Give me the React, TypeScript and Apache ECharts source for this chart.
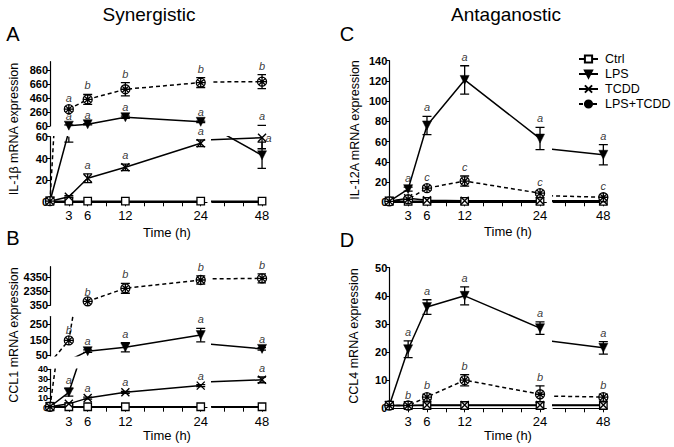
import React, { useEffect, useRef } from 'react';
import * as echarts from 'echarts';

// ---------------- data ----------------
const times = [0, 3, 6, 12, 24, 48];
const seriesNames = ['Ctrl', 'LPS', 'TCDD', 'LPS+TCDD'];

const xTicksSeg1 = [3, 6, 9, 12, 15, 18, 21, 24];
const xLabelsSeg1 = [3, 6, 12, 24];
const xTicksSeg2 = [42, 45, 48];
const xLabelsSeg2 = [48];

// Panel A: IL-1β
const ctrlA = [1, 1, 1, 1, 1, 1];
const lpsA = [1, 65, 85, 185, 120, 43];
const lpsErrA = [0, 10, 10, 15, 10, 12];
const tcddA = [1, 5, 22, 32, 54, 59];
const tcddErrA = [0, 1, 4, 3, 3, 10];
const comboA = [1, 300, 440, 585, 680, 693];
const comboErrA = [0, 30, 70, 95, 70, 100];
const lpsLettersA = ['', 'a', 'a', 'a', 'a', 'a'];
const lpsLetterAtA = [null, null, null, null, null, 59];
const lpsLetterSideA = ['top', 'top', 'top', 'top', 'top', 'right'];
const tcddLettersA = ['', '', 'a', 'a', 'a', 'a'];
const comboLettersA = ['', 'a', 'b', 'b', 'b', 'b'];
const aLowTicks = [0, 20, 40, 60];
const aHighTicks = [60, 260, 460, 660, 860];

// Panel B: CCL1
const ctrlB = [1, 1, 1, 1, 1, 1];
const lpsB = [1, 16, 75, 100, 180, 90];
const lpsErrB = [0, 4, 8, 30, 44, 8];
const tcddB = [1, 4, 10, 16, 23, 29];
const tcddErrB = [0, 1, 1, 1, 1, 3];
const comboB = [1, 145, 880, 2760, 3960, 4200];
const comboErrB = [0, 10, 50, 720, 580, 650];
const lpsLettersB = ['', 'a', 'a', 'a', 'a', 'a'];
const tcddLettersB = ['', '', 'a', 'a', 'a', 'a'];
const comboLettersB = ['', 'b', 'b', 'b', 'b', 'b'];
const bLowTicks = [0, 10, 20, 30, 40];
const bMidTicks = [50, 150, 250];
const bHighTicks = [350, 2350, 4350];

// Panel C: IL-12A
const ctrlC = [1, 1, 1, 1, 1, 1];
const lpsC = [1, 13, 76, 121, 63, 47];
const lpsErrC = [0, 2, 9, 14, 11, 10];
const tcddC = [1, 4, 2, 1.5, 1.5, 1.5];
const comboC = [1, 3, 14, 21, 9, 5];
const comboErrC = [0, 1, 2, 5, 2, 2];
const lpsLettersC = ['', 'a', 'a', 'a', 'a', 'a'];
const comboLettersC = ['', '', 'c', 'c', 'c', 'c'];
const cTicks = [0, 20, 40, 60, 80, 100, 120, 140];

// Panel D: CCL4
const ctrlD = [1, 1, 1, 1, 1, 1];
const lpsD = [1, 21, 36, 40, 28.5, 21.5];
const lpsErrD = [0, 3, 2.6, 3.2, 2.2, 2.2];
const tcddD = [1, 1, 1.2, 1.2, 1.2, 1.2];
const comboD = [1, 1, 4, 10, 5, 4];
const comboErrD = [0, 0.5, 1, 2, 3, 1];
const lpsLettersD = ['', 'a', 'a', 'a', 'a', 'a'];
const comboLettersD = ['', 'b', 'b', 'b', 'b', 'b'];
const dTicks = [0, 10, 20, 30, 40, 50];

const zeros = [0, 0, 0, 0, 0, 0];
const none = ['', '', '', '', '', ''];

// ---------------- styling ----------------
const FONT = "'Liberation Sans', Arial, Helvetica, sans-serif";
const PX = 6.28; // pixels per hour

const seriesStyle: Record<string, any> = {
  Ctrl: {
    symbol: 'rect', symbolSize: 7.5, symbolRotate: 0,
    itemStyle: { color: '#fff', borderColor: '#000', borderWidth: 1.3 },
    lineStyle: { color: '#000', width: 1.6, type: 'solid' },
  },
  LPS: {
    symbol: 'triangle', symbolSize: 9, symbolRotate: 180,
    itemStyle: { color: '#000', borderColor: '#000', borderWidth: 0.5 },
    lineStyle: { color: '#000', width: 1.5, type: 'solid' },
  },
  TCDD: {
    symbol: 'path://M0,0L10,10M10,0L0,10', symbolSize: 8, symbolRotate: 0,
    itemStyle: { color: 'rgba(0,0,0,0)', borderColor: '#000', borderWidth: 1.4 },
    lineStyle: { color: '#000', width: 1.5, type: 'solid' },
  },
  'LPS+TCDD': {
    symbol: 'path://M10,5A5,5,0,1,1,0,5A5,5,0,1,1,10,5ZM0,5L10,5M5,0L5,10M1.6,1.6L8.4,8.4M8.4,1.6L1.6,8.4',
    symbolSize: 9, symbolRotate: 0,
    itemStyle: { color: '#fff', borderColor: '#000', borderWidth: 1.3 },
    lineStyle: { color: '#000', width: 1.5, type: [4, 3] },
  },
};

// ---------------- panels ----------------
const panels = [
  {
    x0: 50, seg2Left: 211.8,
    segs: [
      { min: 0, max: 60, top: 136.7, bottom: 202.3, ticks: aLowTicks, dropBelow: false, fs: 11, split: false },
      { min: 60, max: 978, top: 61.7, bottom: 126, ticks: aHighTicks, dropBelow: true, fs: 11, split: false },
    ],
    series: [
      { name: 'Ctrl', values: ctrlA, errs: zeros, letters: none },
      { name: 'LPS', values: lpsA, errs: lpsErrA, letters: lpsLettersA, letterAt: lpsLetterAtA, letterSide: lpsLetterSideA },
      { name: 'TCDD', values: tcddA, errs: tcddErrA, letters: tcddLettersA },
      { name: 'LPS+TCDD', values: comboA, errs: comboErrA, letters: comboLettersA },
    ],
  },
  {
    x0: 50, seg2Left: 211.8,
    segs: [
      { min: 0, max: 40, top: 369.3, bottom: 407.7, ticks: bLowTicks, dropBelow: false, fs: 9, split: true },
      { min: 45, max: 300, top: 316.6, bottom: 355.8, ticks: bMidTicks, dropBelow: false, fs: 11, split: false },
      { min: 300, max: 5880, top: 266.7, bottom: 305.3, ticks: bHighTicks, dropBelow: true, fs: 11, split: false },
    ],
    series: [
      { name: 'Ctrl', values: ctrlB, errs: zeros, letters: none },
      { name: 'LPS', values: lpsB, errs: lpsErrB, letters: lpsLettersB },
      { name: 'TCDD', values: tcddB, errs: tcddErrB, letters: tcddLettersB },
      { name: 'LPS+TCDD', values: comboB, errs: comboErrB, letters: comboLettersB },
    ],
  },
  {
    x0: 389.3, seg2Left: 553.1,
    segs: [{ min: 0, max: 140, top: 60.7, bottom: 202.3, ticks: cTicks, dropBelow: false, fs: 11, split: false }],
    series: [
      { name: 'Ctrl', values: ctrlC, errs: zeros, letters: none },
      { name: 'LPS', values: lpsC, errs: lpsErrC, letters: lpsLettersC },
      { name: 'TCDD', values: tcddC, errs: zeros, letters: none },
      { name: 'LPS+TCDD', values: comboC, errs: comboErrC, letters: comboLettersC },
    ],
  },
  {
    x0: 389.3, seg2Left: 553.1,
    segs: [{ min: 0, max: 50, top: 267.7, bottom: 408.3, ticks: dTicks, dropBelow: false, fs: 11, split: false }],
    series: [
      { name: 'Ctrl', values: ctrlD, errs: zeros, letters: none },
      { name: 'LPS', values: lpsD, errs: lpsErrD, letters: lpsLettersD },
      { name: 'TCDD', values: tcddD, errs: zeros, letters: none },
      { name: 'LPS+TCDD', values: comboD, errs: comboErrD, letters: comboLettersD },
    ],
  },
];

const xSegs = [
  { min: 0, max: 25, ticks: xTicksSeg1, labels: xLabelsSeg1 },
  { min: 40, max: 48.5, ticks: xTicksSeg2, labels: xLabelsSeg2 },
];

function errRender(params: any, api: any) {
  const x = api.value(0);
  const lo = api.value(1);
  const hi = api.value(2);
  const a = api.coord([x, hi]);
  const b = api.coord([x, lo]);
  const w = 4.5;
  const st = { stroke: '#000', lineWidth: 1.3, fill: 'none' };
  return {
    type: 'group',
    children: [
      { type: 'line', shape: { x1: a[0], y1: a[1], x2: b[0], y2: b[1] }, style: st },
      { type: 'line', shape: { x1: a[0] - w, y1: a[1], x2: a[0] + w, y2: a[1] }, style: st },
      { type: 'line', shape: { x1: b[0] - w, y1: b[1], x2: b[0] + w, y2: b[1] }, style: st },
    ],
  };
}

function buildOption() {
  const grid: any[] = [];
  const xAxis: any[] = [];
  const yAxis: any[] = [];
  const series: any[] = [];

  const yLabelBase = (seg: any, values: number[]) => ({
    show: true, customValues: values, color: '#000', fontSize: seg.fs, lineHeight: seg.fs,
    fontWeight: 'bold', margin: 2, fontFamily: FONT, hideOverlap: false,
    formatter: (v: number) => String(v),
  });

  panels.forEach((p) => {
    p.segs.forEach((seg, j) => {
      xSegs.forEach((xs, k) => {
        const g = grid.length;
        grid.push({
          left: k === 0 ? p.x0 : p.seg2Left,
          width: (xs.max - xs.min) * PX,
          top: seg.top,
          height: seg.bottom - seg.top,
          containLabel: false,
          outerBoundsMode: 'none',
        });
        const xi = xAxis.length;
        xAxis.push({
          type: 'value', gridIndex: g, min: xs.min, max: xs.max, show: j === 0,
          axisLine: { show: true, onZero: false, lineStyle: { color: '#000', width: 1.2 } },
          axisTick: { show: true, customValues: xs.ticks, length: 4, lineStyle: { color: '#000', width: 1 } },
          axisLabel: {
            show: true, customValues: xs.labels, color: '#000', fontSize: 13, margin: 7, fontFamily: FONT,
            hideOverlap: false,
            formatter: (v: number) => String(v),
          },
          splitLine: { show: false },
        });
        const mainLabels = seg.split ? seg.ticks.filter((_: number, i: number) => i % 2 === 0) : seg.ticks;
        const yi = yAxis.length;
        yAxis.push({
          type: 'value', gridIndex: g, min: seg.min, max: seg.max, show: k === 0, position: 'left',
          axisLine: { show: true, lineStyle: { color: '#000', width: 1.2 } },
          axisTick: { show: true, customValues: seg.ticks, length: 3, lineStyle: { color: '#000', width: 1 } },
          axisLabel: yLabelBase(seg, mainLabels),
          splitLine: { show: false },
        });
        if (seg.split && k === 0) {
          // second label layer for the tightly packed ticks
          yAxis.push({
            type: 'value', gridIndex: g, min: seg.min, max: seg.max, show: true, position: 'left', offset: 0,
            axisLine: { show: false }, axisTick: { show: false },
            axisLabel: yLabelBase(seg, seg.ticks.filter((_: number, i: number) => i % 2 === 1)),
            splitLine: { show: false },
          });
        }

        const errData: any[] = [];
        const letterData: any[] = [];
        p.series.forEach((s: any) => {
          const st = seriesStyle[s.name];
          const data = times
            .map((t, i) => [t, s.values[i]])
            .filter((d) => (k === 0 ? d[0] <= xs.max : true))
            .map((d) => (seg.dropBelow && (d[1] as number) < seg.min ? [d[0], '-'] : d));
          series.push({
            type: 'line', name: s.name, xAxisIndex: xi, yAxisIndex: yi, data,
            symbol: st.symbol, symbolSize: st.symbolSize, symbolRotate: st.symbolRotate,
            showAllSymbol: true, itemStyle: st.itemStyle, lineStyle: st.lineStyle,
            clip: true, z: 3, silent: true, connectNulls: false,
          });
          times.forEach((t, i) => {
            const e = s.errs[i];
            const hi = s.values[i] + e;
            const lo = s.values[i] - e;
            const inRange = hi >= seg.min && lo <= seg.max;
            if (e > 0 && inRange) errData.push([t, lo, hi]);
            const letter = s.letters[i];
            if (letter) {
              const at = s.letterAt && s.letterAt[i] != null ? s.letterAt[i] : hi;
              const side = s.letterSide ? s.letterSide[i] : 'top';
              if (at >= seg.min && at <= seg.max) {
                letterData.push({
                  name: letter, value: [t, at],
                  label: { position: side, color: '#000' },
                });
              }
            }
          });
        });
        series.push({
          type: 'custom', name: 'err', xAxisIndex: xi, yAxisIndex: yi, clip: true, z: 2, silent: true,
          data: errData, renderItem: errRender,
        });
        series.push({
          type: 'scatter', name: 'letters', xAxisIndex: xi, yAxisIndex: yi, symbolSize: 1, silent: true, z: 5,
          itemStyle: { color: 'rgba(0,0,0,0)' },
          data: letterData,
          label: {
            show: true, formatter: '{b}', position: 'top', distance: 3,
            fontStyle: 'italic', fontSize: 11, color: '#000', fontFamily: FONT,
            textBorderWidth: 0,
          },
        });
      });
    });
  });

  const txt = (text: string, x: number, y: number, size: number, rot = 0) => ({
    type: 'text', x, y, rotation: rot, silent: true,
    style: { text, fontSize: size, fontFamily: FONT, fill: '#000', align: 'center', verticalAlign: 'middle' },
  });

  return {
    animation: false,
    textStyle: { fontFamily: FONT },
    grid, xAxis, yAxis, series,
    legend: {
      data: seriesNames, orient: 'vertical', left: 578, top: 52.5, padding: 0,
      itemWidth: 19, itemHeight: 9, itemGap: 2,
      textStyle: { fontSize: 12.5, lineHeight: 12, color: '#000', fontFamily: FONT, padding: [0, 0, 0, 2] },
      selectedMode: false,
    },
    graphic: [
      txt('Synergistic', 149, 14, 19),
      txt('Antaganostic', 506, 14, 19),
      txt('A', 13, 34, 20),
      txt('C', 347, 34, 20),
      txt('B', 13, 238, 20),
      txt('D', 347, 240, 20),
      txt('IL-1β mRNA expression', 14, 129, 12.5, Math.PI / 2),
      txt('CCL1 mRNA expression', 14, 335, 12.5, Math.PI / 2),
      txt('IL-12A mRNA expression', 355, 130, 12.5, Math.PI / 2),
      txt('CCL4 mRNA expression', 354, 336, 12.5, Math.PI / 2),
      txt('Time (h)', 167, 232, 13),
      txt('Time (h)', 167, 435, 13),
      txt('Time (h)', 508, 231, 13),
      txt('Time (h)', 508, 435, 13),
    ],
  };
}

export default function App() {
  const ref = useRef<HTMLDivElement>(null);
  useEffect(() => {
    document.body.style.margin = '0';
    const chart = echarts.init(ref.current as HTMLDivElement, undefined, { renderer: 'svg' });
    chart.setOption(buildOption() as any);
    return () => chart.dispose();
  }, []);
  return <div ref={ref} style={{ width: 674, height: 447 }} />;
}
